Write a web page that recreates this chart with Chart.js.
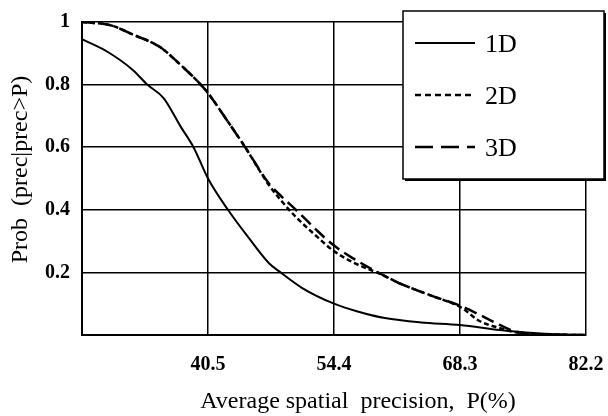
<!DOCTYPE html>
<html>
<head>
<meta charset="utf-8">
<script src="https://cdn.jsdelivr.net/npm/chart.js@4/dist/chart.umd.min.js"></script>
<style>
  html, body { margin: 0; padding: 0; background: #fff; }
  #wrap { width: 608px; height: 416px; position: relative; }
</style>
</head>
<body>
<div id="wrap"><canvas id="c" width="608" height="416"></canvas></div>
<script>
// ---- data ----
const xTicks = [40.5, 54.4, 68.3, 82.2];
const yTicks = [0.2, 0.4, 0.6, 0.8, 1];

const x1D = [26.6, 29.4, 32.2, 33.8, 35.6, 37.5, 38.9, 40.5, 42.7, 45.0, 47.2, 48.5, 50.9, 54.4, 57.0, 60.0, 64.0, 68.3, 72.7, 76.4, 79.0, 82.2];
const y1D = [0.945, 0.905, 0.847, 0.80, 0.757, 0.665, 0.60, 0.50, 0.40, 0.31, 0.23, 0.20, 0.15, 0.10, 0.075, 0.054, 0.040, 0.032, 0.016, 0.006, 0.002, 0];

const x23 = [26.6, 29.7, 32.2, 35.2, 37.1, 39.7, 40.5, 42.5, 44.6, 47.2, 48.7, 50.2, 52.3, 54.3, 56.5, 59.9, 61.4, 65.2, 68.3, 70.5, 72.7, 74.3, 77.3, 82.2];
const y2D = [1.0, 0.99, 0.96, 0.92, 0.873, 0.80, 0.773, 0.69, 0.60, 0.48, 0.425, 0.377, 0.32, 0.27, 0.232, 0.19, 0.168, 0.125, 0.090, 0.044, 0.022, 0.010, 0.002, 0];
const y3D = [1.0, 0.99, 0.96, 0.92, 0.873, 0.80, 0.773, 0.69, 0.60, 0.485, 0.44, 0.40, 0.34, 0.288, 0.245, 0.19, 0.168, 0.125, 0.094, 0.064, 0.032, 0.012, 0.002, 0];

const seriesLabels = ['1D', '2D', '3D'];
const xTitle = '        Average spatial  precision,  P(%)';
const yTitle = '   Prob  (prec|prec>P)';

const toPts = (xs, ys) => xs.map((x, i) => ({ x: x, y: ys[i] }));

const legendBox = {
  id: 'legendBox',
  afterDraw(chart) {
    const ctx = chart.ctx;
    const L = 403, T = 11, R = 604, B = 179;
    ctx.save();
    ctx.fillStyle = '#000';
    ctx.fillRect(L + 2, T + 2, R - L, B - T);
    ctx.fillStyle = '#fff';
    ctx.fillRect(L, T, R - L, B - T);
    ctx.strokeStyle = '#000';
    ctx.lineWidth = 1.5;
    ctx.strokeRect(L, T, R - L, B - T);
    const rowsY = [43, 95, 147];
    chart.data.datasets.forEach((ds, i) => {
      const y = rowsY[i];
      ctx.beginPath();
      ctx.setLineDash(ds.legendDash || []);
      ctx.lineWidth = ds.borderWidth;
      ctx.strokeStyle = ds.borderColor;
      ctx.moveTo(415, y);
      ctx.lineTo(475, y);
      ctx.stroke();
      ctx.setLineDash([]);
      ctx.fillStyle = '#000';
      ctx.font = '26px "Liberation Serif", "Times New Roman", serif';
      ctx.textBaseline = 'middle';
      ctx.textAlign = 'left';
      ctx.fillText(ds.label, 485, y + 2);
    });
    ctx.restore();
  }
};

new Chart(document.getElementById('c'), {
  type: 'line',
  data: {
    datasets: [
      { label: seriesLabels[0], data: toPts(x1D, y1D), borderColor: '#000', borderWidth: 2, borderDash: [], legendDash: [], pointRadius: 0, cubicInterpolationMode: 'monotone', fill: false },
      { label: seriesLabels[1], data: toPts(x23, y2D), borderColor: '#000', borderWidth: 2.5, borderDash: [5, 3], legendDash: [6, 4], pointRadius: 0, cubicInterpolationMode: 'monotone', fill: false },
      { label: seriesLabels[2], data: toPts(x23, y3D), borderColor: '#000', borderWidth: 2.5, borderDash: [13, 6], legendDash: [18, 8], pointRadius: 0, cubicInterpolationMode: 'monotone', fill: false }
    ]
  },
  options: {
    responsive: false,
    animation: false,
    events: [],
    layout: { padding: { top: 22, right: 22, left: 0, bottom: 0 } },
    plugins: { legend: { display: false }, tooltip: { enabled: false }, title: { display: false } },
    scales: {
      x: {
        type: 'linear',
        min: 26.6,
        max: 82.2,
        afterBuildTicks(axis) { axis.ticks = xTicks.map(v => ({ value: v })); },
        afterFit(axis) { axis.height = 81; axis.paddingLeft = 0; axis.paddingRight = 0; },
        grid: { color: '#000', lineWidth: 1.5, drawTicks: false },
        border: { color: '#000', width: 2 },
        ticks: {
          color: '#000',
          padding: 18,
          maxRotation: 0,
          font: { family: '"Liberation Serif", "Times New Roman", serif', size: 20, weight: 'bold' },
          callback: v => v.toFixed(1)
        },
        title: {
          display: true,
          text: xTitle,
          color: '#000',
          padding: { top: 0, bottom: 0 },
          font: { family: '"Liberation Serif", "Times New Roman", serif', size: 24 }
        }
      },
      y: {
        type: 'linear',
        min: 0,
        max: 1,
        afterBuildTicks(axis) { axis.ticks = [0].concat(yTicks).map(v => ({ value: v })); },
        afterFit(axis) { axis.width = 82; axis.paddingTop = 0; axis.paddingBottom = 0; },
        grid: { color: '#000', lineWidth: 1.5, drawTicks: false },
        border: { color: '#000', width: 2 },
        ticks: {
          color: '#000',
          padding: 12,
          font: { family: '"Liberation Serif", "Times New Roman", serif', size: 20, weight: 'bold' },
          callback: v => (v === 0 ? '' : (v === 1 ? '1' : v.toFixed(1)))
        },
        title: {
          display: true,
          text: yTitle,
          color: '#000',
          padding: { top: 6, bottom: 0 },
          font: { family: '"Liberation Serif", "Times New Roman", serif', size: 24 }
        }
      }
    }
  },
  plugins: [legendBox]
});
</script>
</body>
</html>
